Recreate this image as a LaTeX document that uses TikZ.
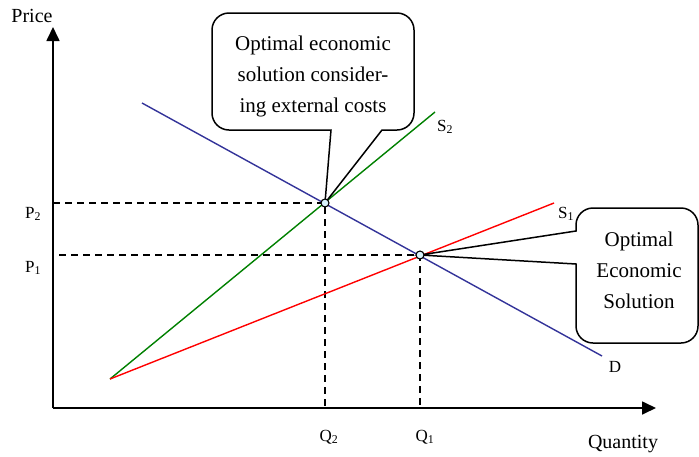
\documentclass[tikz,border=0pt]{standalone}
\usepackage{fontspec}
\setmainfont{Liberation Serif}
\usetikzlibrary{arrows.meta}
\begin{document}
\begin{tikzpicture}[x=1pt,y=-1pt,
  axis/.style={line width=1.7pt,-{Triangle[length=14pt,width=13pt]}},
  guide/.style={line width=1.4pt,dash pattern=on 7pt off 5pt},
  curve/.style={line width=1.4pt},
  bubble/.style={line width=1.5pt,draw=black,fill=white},
  bubbletext/.style={align=center,font=\fontsize{21}{31}\selectfont},
  lab/.style={font=\fontsize{17}{20}\selectfont,inner sep=0pt},
  biglab/.style={font=\fontsize{20}{22}\selectfont,inner sep=0pt},
  dot/.style={circle,draw=black,fill=cyan!15,line width=1.1pt,minimum size=8pt,inner sep=0pt}]
\useasboundingbox (0,0) rectangle (699,456);
% coordinates
\coordinate (O) at (53,408);
\coordinate (Ytop) at (53,27);
\coordinate (Xend) at (656,408);
\coordinate (S0) at (110,379);
\coordinate (S2end) at (435,112);
\coordinate (S1end) at (554,203);
\coordinate (Dstart) at (142,103);
\coordinate (Dend) at (602,356);
\coordinate (E2) at (325,203);
\coordinate (E1) at (420,255);
\coordinate (P2a) at (53,203);
\coordinate (P1a) at (59,255);
\coordinate (Q2a) at (325,408);
\coordinate (Q1a) at (420,408);
% axes
\draw[axis] (O) -- (Ytop);
\draw[axis] (O) -- (Xend);
% guides
\draw[guide] (P2a) -- (E2) -- (Q2a);
\draw[guide] (P1a) -- (E1) -- (Q1a);
% curves
\draw[curve,draw={rgb,255:red,51;green,51;blue,153}] (Dstart) -- (Dend);
\draw[curve,draw={rgb,255:red,0;green,128;blue,0}] (S0) -- (S2end);
\draw[curve,draw=red] (S0) -- (S1end);
% callout 1
\draw[bubble] (331,130) -- (E2) -- (382,130) [rounded corners=17pt] -- (414,130) -- (414,13) -- (212,13) -- (212,130) [sharp corners] -- cycle;
\node[bubbletext] (t1) at (313,76) {Optimal economic\\solution consider-\\ing external costs};
% callout 2
\draw[bubble] (576,231) -- (E1) -- (576,264) [rounded corners=17pt] -- (576,343) -- (698,343) -- (698,208) -- (576,208) [sharp corners] -- cycle;
\node[bubbletext] (t2) at (639,270) {Optimal\\Economic\\Solution};
% equilibrium points
\node[dot] (e2) at (E2) {};
\node[dot] (e1) at (E1) {};
% labels
\node[biglab] (price) at (32,16) {Price};
\node[biglab] (quantity) at (623,444) {Quantity};
\node[lab] (p2) at (33,214) {P\textsubscript{2}};
\node[lab] (p1) at (33,268) {P\textsubscript{1}};
\node[lab] (q2) at (329,437) {Q\textsubscript{2}};
\node[lab] (q1) at (425,437) {Q\textsubscript{1}};
\node[lab] (s2) at (445,127) {S\textsubscript{2}};
\node[lab] (s1) at (566,214) {S\textsubscript{1}};
\node[lab] (d) at (615,367) {D};
\end{tikzpicture}
\end{document}
